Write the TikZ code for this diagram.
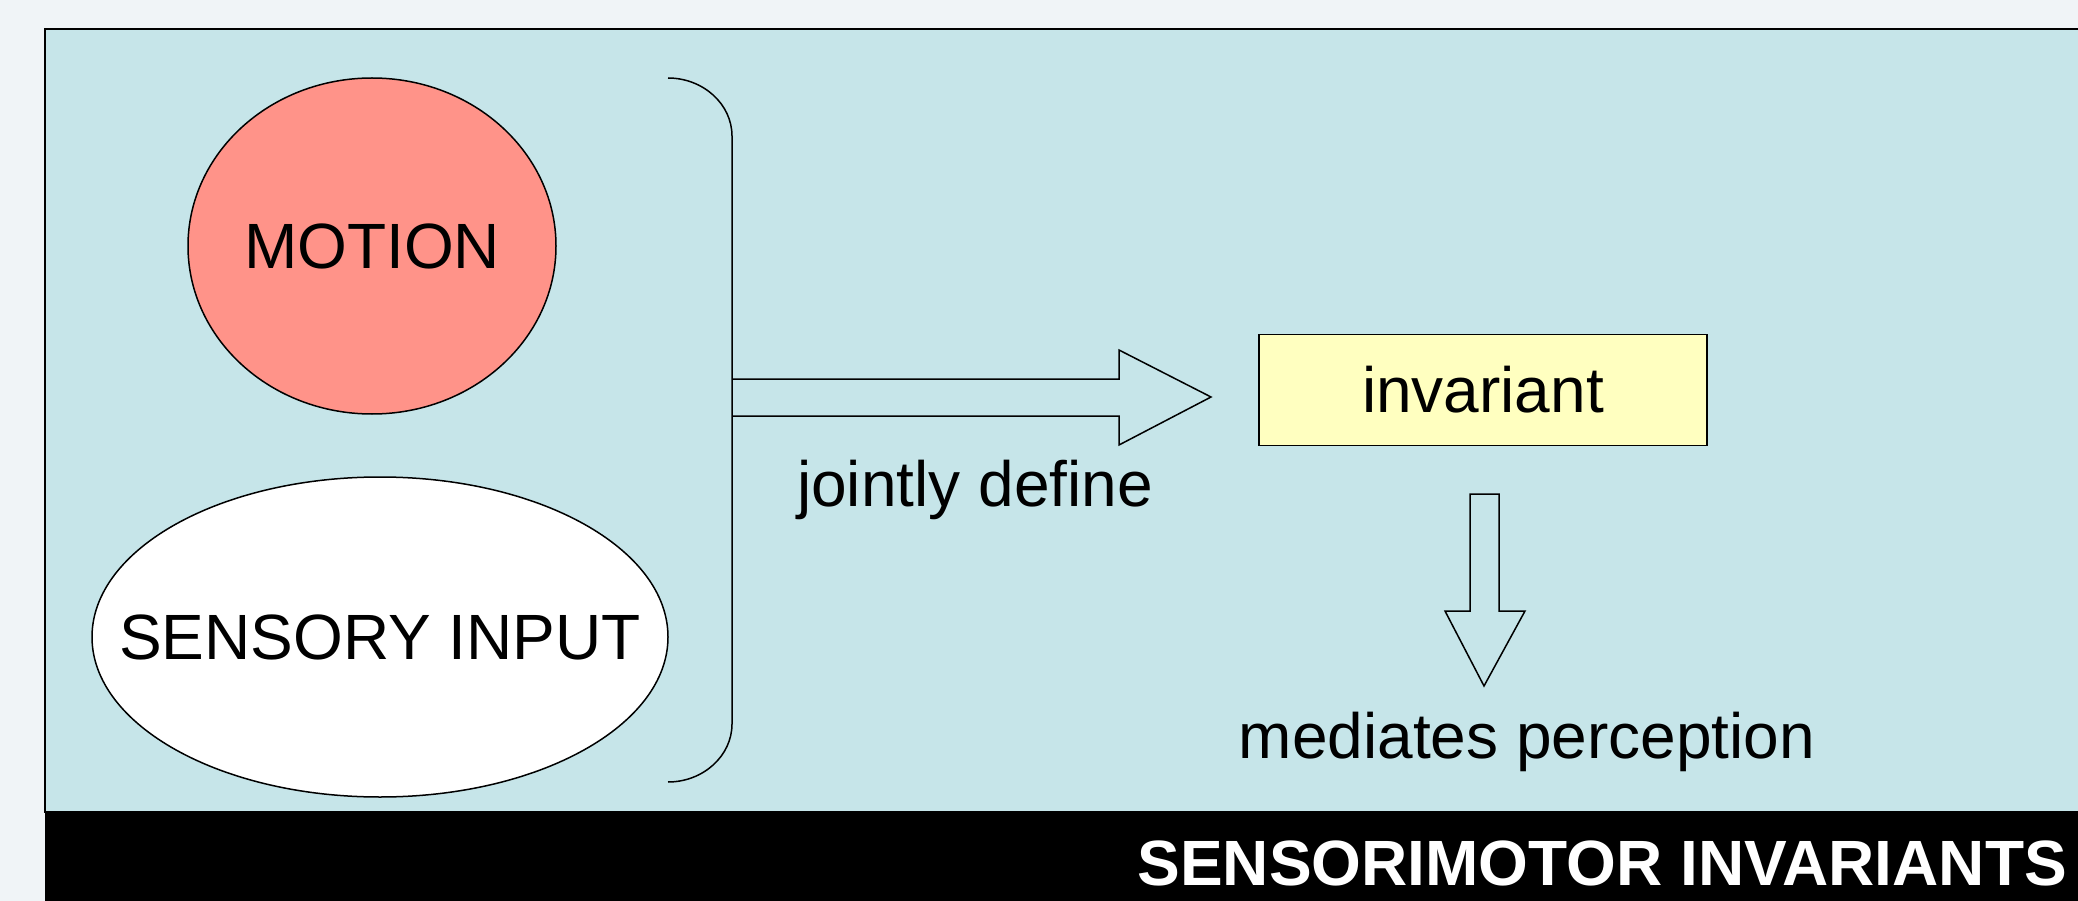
\documentclass[tikz,border=0pt]{standalone}
\usepackage{fontspec}
\setmainfont{Liberation Sans}
\usetikzlibrary{shapes.geometric}
\definecolor{bgc}{RGB}{240,244,247}
\definecolor{panelc}{RGB}{198,229,233}
\definecolor{salmonc}{RGB}{255,147,137}
\definecolor{palec}{RGB}{255,255,192}
\begin{document}
\begin{tikzpicture}[x=1pt,y=-1pt,
  lbl/.style={font=\fontsize{64}{72}\selectfont, inner sep=0pt},
  blob/.style={ellipse, draw=black, line width=1.5pt, inner sep=0pt},
  blockarrow/.style={draw=black, line width=1.5pt, line join=miter}]
\fill[bgc] (0,0) rectangle (2078,901);
\useasboundingbox (0,0) rectangle (2078,901);
% panel
\filldraw[fill=panelc, draw=black, line width=2pt] (45,29) rectangle (2100,812);
\fill[black] (45,812) rectangle (2100,901);
% ellipses
\node[blob, fill=salmonc, minimum width=368pt, minimum height=336pt] (motion) at (372,246) {};
\node[lbl] (motiontxt) at (motion.center) {MOTION};
\node[blob, fill=white, minimum width=576pt, minimum height=320pt] (sensory) at (380,637) {};
\node[lbl] (sensorytxt) at (sensory.center) {SENSORY INPUT};
% bracket
\coordinate (btop) at (668,78);
\coordinate (bbot) at (668,782);
\coordinate (bmid) at (732,397);
\draw[line width=1.5pt] (btop) .. controls (703,78) and (732,104) .. (732,136)
  -- (732,724) .. controls (732,756) and (703,782) .. (bbot);
% invariant box
\node[draw=black, line width=1.5pt, fill=palec, minimum width=448pt, minimum height=111pt, lbl] (inv) at (1483,390) {invariant};
% horizontal block arrow
\draw[blockarrow] (bmid |- 0,379) -- (1119,379) -- (1119,350) -- (1211,397) -- (1119,445) -- (1119,416) -- (bmid |- 0,416);
\node[lbl, anchor=base] (jd) at (975,506) {jointly define};
% vertical block arrow
\draw[blockarrow] (1470,494) -- (1499,494) -- (1499,611) -- (1525,611) -- (1484,686) -- (1445,611) -- (1470,611) -- cycle;
\node[lbl, anchor=base] (mp) at (1527,758) {mediates perception};
% title
\node[lbl, font=\fontsize{64}{72}\selectfont\bfseries, text=white, anchor=base east] (title) at (2067,885) {SENSORIMOTOR INVARIANTS};
\end{tikzpicture}
\end{document}
